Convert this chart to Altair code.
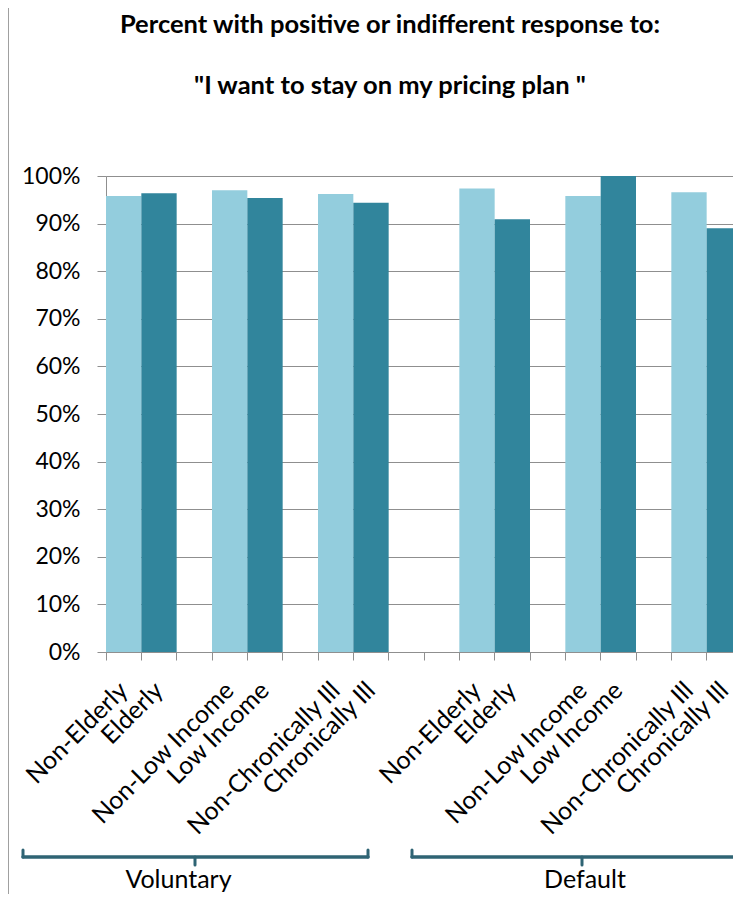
import altair as alt
import pandas as pd

# ---- data ----
groups = ["Voluntary"] * 6 + ["Default"] * 6
categories = ["Non-Elderly", "Elderly", "Non-Low Income", "Low Income",
              "Non-Chronically Ill", "Chronically Ill"] * 2
shades = ["light", "dark"] * 6
values = [0.958, 0.964, 0.970, 0.954, 0.962, 0.944,
          0.974, 0.909, 0.958, 1.000, 0.966, 0.890]
y_ticks = [0, 0.1, 0.2, 0.3, 0.4, 0.5, 0.6, 0.7, 0.8, 0.9, 1.0]
title_lines = ["Percent with positive or indifferent response to:",
               "\"I want to stay on my pricing plan \""]
group_names = ["Voluntary", "Default"]

# ---- category slots: blank slot between pairs, two blanks between groups ----
keys = [f"{g}|{c}" for g, c in zip(groups, categories)]
slots = []
gap = 0
for i, k in enumerate(keys):
    if i > 0:
        n = 2 if groups[i] != groups[i - 1] else (1 if i % 2 == 0 else 0)
        for _ in range(n):
            gap += 1
            slots.append(f"gap{gap}|")
    slots.append(k)

df = pd.DataFrame({"slot": keys, "value": values, "shade": shades})
one = pd.DataFrame({"a": [0]})

GRAY = "#8f8f8f"
FONT = "Lato"
BRACE = "#2f6474"

bars = alt.Chart(df).mark_bar(clip=True).encode(
    x=alt.X("slot:N", sort=slots,
            scale=alt.Scale(domain=slots, paddingInner=0, paddingOuter=0, range=[0, 636]),
            axis=alt.Axis(title=None, labelExpr="split(datum.value, '|')[1]",
                          labelAngle=315, labelAlign="right", labelBaseline="middle",
                          labelFont=FONT, labelFontSize=25, labelColor="#000",
                          labelPadding=26, labelLimit=400, labelOverlap=False,
                          tickSize=8, tickColor=GRAY, domainColor=GRAY,
                          bandPosition=1, tickExtra=True, grid=False)),
    y=alt.Y("value:Q", scale=alt.Scale(domain=[0, 1], nice=False),
            axis=alt.Axis(title=None, values=y_ticks, format=".0%",
                          labelFont=FONT, labelFontSize=23, labelColor="#000",
                          labelPadding=17, tickSize=9, tickColor=GRAY,
                          domainColor=GRAY, grid=True, gridColor=GRAY, gridOpacity=1)),
    color=alt.Color("shade:N", scale=alt.Scale(domain=["light", "dark"],
                                               range=["#93CDDD", "#31859C"]), legend=None),
)

layers = [bars]

# title lines
for txt, yv in zip(title_lines, [-143, -82]):
    layers.append(alt.Chart(one).mark_text(text=txt, font=FONT, fontSize=25.5, fontWeight="bold",
                                           color="#000", align="center", baseline="alphabetic")
                  .encode(x=alt.value(284), y=alt.value(yv)))

# left border line of the chart frame
layers.append(alt.Chart(one).mark_rule(color="#a0a0a0", strokeWidth=1)
              .encode(x=alt.value(-97.5), y=alt.value(-170), y2=alt.value(730)))


def brace(x0, x1, xm):
    out = []
    out.append(alt.Chart(one).mark_rule(color=BRACE, strokeWidth=3.5, strokeCap="round")
               .encode(x=alt.value(x0), x2=alt.value(x1), y=alt.value(681)))
    for xe in (x0, x1):
        out.append(alt.Chart(one).mark_rule(color=BRACE, strokeWidth=3, strokeCap="round")
                   .encode(x=alt.value(xe), y=alt.value(674), y2=alt.value(681)))
    out.append(alt.Chart(one).mark_rule(color=BRACE, strokeWidth=3, strokeCap="round")
               .encode(x=alt.value(xm), y=alt.value(681), y2=alt.value(689)))
    return out


layers += brace(-83, 262, 89)
layers += brace(306, 666, 476)

for name, xc in zip(group_names, [72.5, 479]):
    layers.append(alt.Chart(one).mark_text(text=name, font=FONT, fontSize=25, color="#000",
                                           align="center", baseline="alphabetic")
                  .encode(x=alt.value(xc), y=alt.value(712)))

chart = alt.layer(*layers).properties(
    width=627, height=476,
    autosize=alt.AutoSizeParams(type="none"),
    padding={"left": 98, "top": 168, "right": 0, "bottom": 242},
).configure_view(stroke=None).configure(background="white")

chart.save("out.html", embed_options={"renderer": "svg", "actions": False})
